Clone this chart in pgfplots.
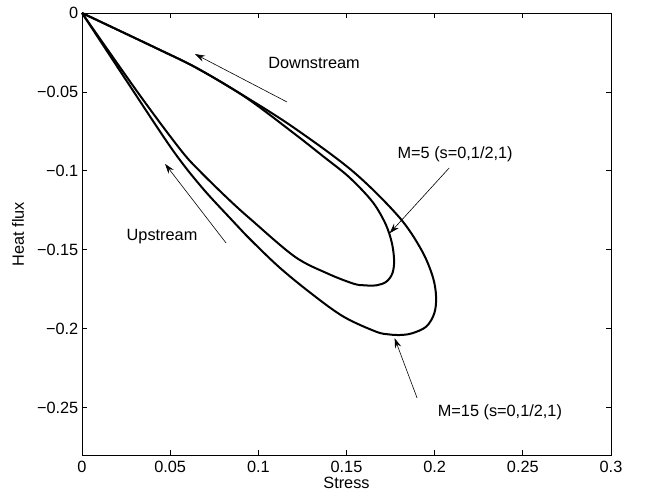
\documentclass[border=0pt]{standalone}
\usepackage{fontspec}
\setmainfont{Liberation Sans}
\usepackage{pgfplots}
\pgfplotsset{compat=1.18}
\usetikzlibrary{arrows.meta}

\pgfplotstableread{
s q
0 0
0.0431 -0.0228
0.0653 -0.0350
0.0929 -0.0532
0.1206 -0.0730
0.1538 -0.1005
0.1796 -0.1290
0.1925 -0.1501
0.1989 -0.1670
0.2008 -0.1797
0.1998 -0.1902
0.1952 -0.1987
0.1869 -0.2030
0.1800 -0.2040
0.1740 -0.2036
0.1666 -0.2018
0.1482 -0.1923
0.1298 -0.1775
0.1113 -0.1605
0.0929 -0.1406
0.0846 -0.1307
0.0680 -0.1105
0.0514 -0.0868
0.0257 -0.0437
0 0
}\outerloop

\pgfplotstableread{
s q
0 0
0.0431 -0.0228
0.0653 -0.0350
0.0929 -0.0535
0.1206 -0.0766
0.1370 -0.0910
0.1500 -0.1025
0.1600 -0.1135
0.1666 -0.1225
0.1725 -0.1345
0.1758 -0.1460
0.1770 -0.1570
0.1760 -0.1650
0.1725 -0.1703
0.1670 -0.1725
0.1600 -0.1725
0.1538 -0.1714
0.1390 -0.1649
0.1206 -0.1543
0.0957 -0.1307
0.0835 -0.1184
0.0671 -0.1005
0.0560 -0.0868
0.0324 -0.0515
0 0
}\innerloop

\begin{document}
\fontsize{16.3}{19.6}\selectfont
\begin{tikzpicture}
\useasboundingbox (-82pt,-37pt) rectangle (565pt,455pt);
\begin{axis}[
  at={(0pt,0pt)}, anchor=south west,
  scale only axis,
  width=529pt, height=442pt,
  xmin=0, xmax=0.3, ymin=-0.28, ymax=0,
  xtick={0,0.05,0.1,0.15,0.2,0.25,0.3},
  xticklabels={0,0.05,0.1,0.15,0.2,0.25,0.3},
  ytick={-0.25,-0.2,-0.15,-0.1,-0.05,0},
  yticklabels={−0.25,−0.2,−0.15,−0.1,−0.05,0},
  tick align=inside,
  major tick length=5pt,
  tick style={line width=0.8pt, black},
  axis line style={line width=0.9pt},
  x tick label style={anchor=center, inner sep=0pt, yshift=-12pt},
  y tick label style={anchor=east, inner sep=0pt, xshift=-3.5pt},
  xlabel={Stress},
  ylabel={Heat flux},
  xlabel style={at={(axis description cs:0.5,-0.064)}, anchor=center},
  ylabel style={at={(axis description cs:-0.121,0.5)}, anchor=center},
  clip=false,
]
\addplot[black, line width=2pt, smooth, tension=0.55] table[x=s,y=q] {\outerloop};
\addplot[black, line width=2pt, smooth, tension=0.55] table[x=s,y=q] {\innerloop};

\draw[line width=0.6pt, -{Stealth[length=10pt,width=6.5pt,inset=3.5pt]}] (axis cs:0.1163,-0.0564) -- (axis cs:0.0641,-0.0260);
\draw[line width=0.6pt, -{Stealth[length=10pt,width=6.5pt,inset=3.5pt]}] (axis cs:0.0817,-0.1457) -- (axis cs:0.0471,-0.0956);
\draw[line width=0.6pt, -{Stealth[length=10pt,width=6.5pt,inset=3.5pt]}] (axis cs:0.2082,-0.0982) -- (axis cs:0.1745,-0.1395);
\draw[line width=0.6pt, -{Stealth[length=10pt,width=6.5pt,inset=3.5pt]}] (axis cs:0.1900,-0.2438) -- (axis cs:0.1773,-0.2060);

\node[anchor=center, inner sep=0pt] at (axis cs:0.1316,-0.0317) {Downstream};
\node[anchor=center, inner sep=0pt] at (axis cs:0.0454,-0.1419) {Upstream};
\node[anchor=center, inner sep=0pt] at (axis cs:0.2116,-0.0893) {M=5 (s=0,1/2,1)};
\node[anchor=center, inner sep=0pt] at (axis cs:0.2370,-0.2527) {M=15 (s=0,1/2,1)};
\end{axis}
\end{tikzpicture}
\end{document}
